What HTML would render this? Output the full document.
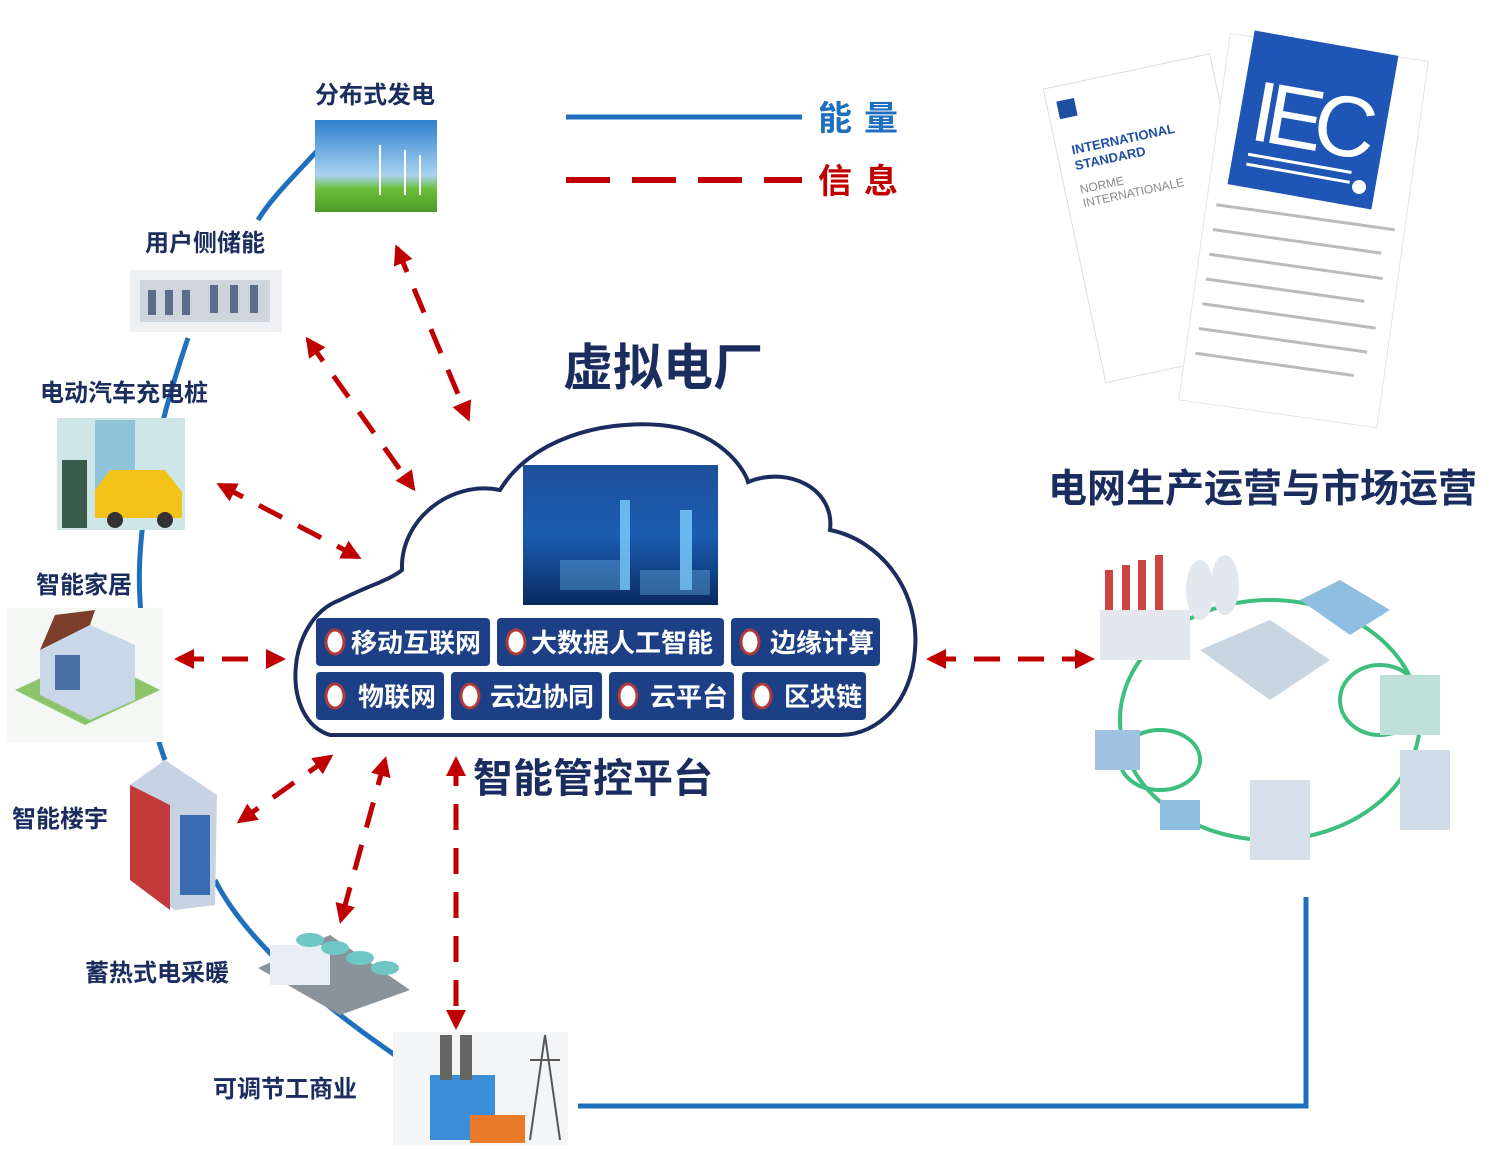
<!DOCTYPE html>
<html><head><meta charset="utf-8"><style>
html,body{margin:0;padding:0;background:#fff;}
svg{display:block;}
.t{font-family:"Liberation Sans","Noto Sans CJK SC",sans-serif;font-weight:bold;}
</style></head><body>
<svg width="1504" height="1149" viewBox="0 0 1504 1149" xmlns="http://www.w3.org/2000/svg">
<defs>
<marker id="ah" viewBox="0 0 10 10" refX="8" refY="5" markerWidth="4" markerHeight="4" orient="auto-start-reverse"><path d="M0,0L10,5L0,10z" fill="#c00000"/></marker>
<linearGradient id="sky" x1="0" y1="0" x2="0" y2="1"><stop offset="0" stop-color="#2f7fd0"/><stop offset="0.6" stop-color="#a9d3f0"/><stop offset="0.75" stop-color="#6cbf3a"/><stop offset="1" stop-color="#4a9a28"/></linearGradient>
<linearGradient id="city" x1="0" y1="0" x2="0" y2="1"><stop offset="0" stop-color="#1e4f9a"/><stop offset="0.5" stop-color="#1a5cb0"/><stop offset="1" stop-color="#0a2a60"/></linearGradient>
</defs>

<g stroke="#1f6fbf" stroke-width="5" fill="none">
<path d="M318,150 C290,180 270,200 258,220"/>
<path d="M188,338 C160,420 135,520 140,600 C145,680 150,720 165,760"/>
<path d="M215,880 C240,930 300,990 395,1055"/>
<path d="M1306,897 L1306,1106 L578,1106"/>
</g>

<line x1="566" y1="117" x2="802" y2="117" stroke="#1f6fbf" stroke-width="5"/>
<line x1="566" y1="180" x2="802" y2="180" stroke="#c00000" stroke-width="6" stroke-dasharray="44,22"/>
<text x="818" y="130" class="t" font-size="34" fill="#1f6fbf" letter-spacing="12">能量</text>
<text x="818" y="193" class="t" font-size="34" fill="#c00000" letter-spacing="12">信息</text>

<text x="563" y="385" class="t" font-size="50" fill="#1b2c5e">虚拟电厂</text>
<text x="1048" y="502" class="t" font-size="39" fill="#1b2c5e">电网生产运营与市场运营</text>
<text x="473" y="792" class="t" font-size="40" fill="#1b2c5e">智能管控平台</text>

<path d="M330,735 C280,720 285,620 340,600 C370,585 390,580 402,570 C400,520 450,480 500,490 C530,440 600,420 660,425 C720,430 745,470 748,482 C790,465 835,490 830,530 C880,540 920,590 915,650 C912,700 880,735 840,735 Z" fill="#fff" stroke="#1b2c5e" stroke-width="4"/>
<rect x="523" y="465" width="195" height="140" fill="url(#city)"/>
<g fill="#7fd0ff" opacity="0.8">
<rect x="620" y="500" width="10" height="90"/><rect x="680" y="510" width="12" height="80"/><rect x="560" y="560" width="60" height="30" opacity="0.4"/><rect x="640" y="570" width="70" height="25" opacity="0.4"/>
</g>

<g class="t" font-size="26" fill="#fff">
<rect x="316" y="618" width="174" height="48" rx="4" fill="#1d3f86"/>
<rect x="497" y="618" width="227" height="48" rx="4" fill="#1d3f86"/>
<rect x="731" y="618" width="149" height="48" rx="4" fill="#1d3f86"/>
<rect x="316" y="672" width="128" height="48" rx="4" fill="#1d3f86"/>
<rect x="451" y="672" width="151" height="48" rx="4" fill="#1d3f86"/>
<rect x="609" y="672" width="125" height="48" rx="4" fill="#1d3f86"/>
<rect x="742" y="672" width="124" height="48" rx="4" fill="#1d3f86"/>
<g fill="#fff" stroke="#b03a3a" stroke-width="3">
<ellipse cx="335" cy="642" rx="9" ry="12"/><ellipse cx="516" cy="642" rx="9" ry="12"/><ellipse cx="750" cy="642" rx="9" ry="12"/>
<ellipse cx="335" cy="696" rx="9" ry="12"/><ellipse cx="470" cy="696" rx="9" ry="12"/><ellipse cx="628" cy="696" rx="9" ry="12"/><ellipse cx="762" cy="696" rx="9" ry="12"/>
</g>
<text x="351" y="652">移动互联网</text>
<text x="531" y="652">大数据人工智能</text>
<text x="770" y="652">边缘计算</text>
<text x="358" y="706">物联网</text>
<text x="490" y="706">云边协同</text>
<text x="650" y="706">云平台</text>
<text x="784" y="706">区块链</text>
</g>

<g stroke="#c00000" stroke-width="5" stroke-dasharray="26,18" fill="none" marker-start="url(#ah)" marker-end="url(#ah)">
<line x1="397" y1="248" x2="468" y2="418"/>
<line x1="308" y1="340" x2="413" y2="488"/>
<line x1="220" y1="485" x2="358" y2="557"/>
<line x1="178" y1="659" x2="282" y2="659"/>
<line x1="330" y1="757" x2="240" y2="821"/>
<line x1="385" y1="760" x2="341" y2="920"/>
<line x1="456" y1="760" x2="456" y2="1026"/>
<line x1="930" y1="659" x2="1091" y2="659"/>
</g>

<g class="t" font-size="24" fill="#1b2c5e">
<text x="315" y="103">分布式发电</text>
<text x="145" y="251">用户侧储能</text>
<text x="40" y="401">电动汽车充电桩</text>
<text x="36" y="593">智能家居</text>
<text x="12" y="827">智能楼宇</text>
<text x="85" y="981">蓄热式电采暖</text>
<text x="213" y="1097">可调节工商业</text>
</g>

<rect x="315" y="120" width="122" height="92" fill="url(#sky)"/>
<g stroke="#fff" stroke-width="2"><line x1="380" y1="145" x2="380" y2="195"/><line x1="405" y1="150" x2="405" y2="195"/><line x1="420" y1="155" x2="420" y2="195"/></g>

<rect x="130" y="270" width="152" height="62" fill="#eef0f3"/>
<g fill="#cfd5dd"><rect x="140" y="280" width="130" height="42"/></g>
<g fill="#5a6c8a"><rect x="148" y="290" width="8" height="25"/><rect x="165" y="290" width="8" height="25"/><rect x="182" y="290" width="8" height="25"/><rect x="210" y="285" width="8" height="28"/><rect x="230" y="285" width="8" height="28"/><rect x="250" y="285" width="8" height="28"/></g>

<rect x="57" y="418" width="128" height="112" fill="#cfe6e8"/>
<rect x="95" y="420" width="40" height="80" fill="#8fc3d9"/>
<rect x="62" y="460" width="25" height="68" fill="#3a5a4a"/>
<path d="M95,490 L110,470 L165,470 L182,492 L182,518 L95,518Z" fill="#f2c21b"/>
<circle cx="115" cy="520" r="8" fill="#333"/><circle cx="165" cy="520" r="8" fill="#333"/>

<rect x="7" y="608" width="156" height="134" fill="#f4f7f4"/>
<path d="M15,690 L85,725 L160,690 L90,655Z" fill="#8cc46a"/>
<path d="M40,650 L90,625 L135,645 L135,700 L90,720 L40,695Z" fill="#c8d8e8"/>
<path d="M40,650 L90,625 L95,610 L55,615Z" fill="#7a3e2a"/>
<rect x="55" y="655" width="25" height="35" fill="#4a6fa5"/>

<path d="M130,785 L165,760 L217,795 L215,905 L175,910 L130,880Z" fill="#c7d3e3"/>
<path d="M130,785 L170,805 L170,910 L130,880Z" fill="#c23a3a"/>
<g fill="#3a6ab0"><rect x="180" y="815" width="30" height="80"/></g>

<path d="M258,968 L330,935 L410,990 L340,1015Z" fill="#8a929c"/>
<rect x="270" y="945" width="60" height="40" fill="#e8eef5"/>
<g fill="#6fc7c5"><ellipse cx="310" cy="940" rx="14" ry="7"/><ellipse cx="335" cy="948" rx="14" ry="7"/><ellipse cx="360" cy="958" rx="14" ry="7"/><ellipse cx="385" cy="968" rx="14" ry="7"/></g>

<rect x="393" y="1032" width="175" height="113" fill="#f3f5f7"/>
<rect x="430" y="1075" width="65" height="65" fill="#3b8fd8"/>
<rect x="440" y="1035" width="12" height="45" fill="#666"/><rect x="460" y="1035" width="12" height="45" fill="#666"/>
<rect x="470" y="1115" width="55" height="28" fill="#e87a2a"/>
<path d="M545,1035 L530,1140 M545,1035 L560,1140 M530,1060 L560,1060" stroke="#555" stroke-width="2"/>

<g transform="rotate(-12 1150 230)">
<rect x="1075" y="70" width="170" height="300" fill="#fff" stroke="#ddd"/>
<rect x="1085" y="85" width="18" height="18" fill="#1f4fa0"/>
<text x="1090" y="140" font-family="Liberation Sans" font-size="13" font-weight="bold" fill="#1f4fa0">INTERNATIONAL</text>
<text x="1090" y="156" font-family="Liberation Sans" font-size="13" font-weight="bold" fill="#1f4fa0">STANDARD</text>
<text x="1090" y="180" font-family="Liberation Sans" font-size="12" fill="#888">NORME</text>
<text x="1090" y="194" font-family="Liberation Sans" font-size="12" fill="#888">INTERNATIONALE</text>
</g>
<g transform="rotate(8 1300 220)">
<rect x="1205" y="45" width="200" height="370" fill="#fff" stroke="#e4e4e4"/>
<g fill="#bbb"><rect x="1215" y="215" width="180" height="3"/><rect x="1215" y="240" width="170" height="3"/><rect x="1215" y="265" width="175" height="3"/><rect x="1215" y="290" width="160" height="3"/><rect x="1215" y="315" width="175" height="3"/><rect x="1215" y="340" width="170" height="3"/><rect x="1215" y="365" width="160" height="3"/></g>
</g>
<g transform="rotate(10 1313 120)">
<rect x="1240" y="42" width="146" height="156" fill="#1f55b5"/>
<text x="1252" y="150" font-family="Liberation Sans" font-size="86" fill="#fff" textLength="125">IEC</text>
<g stroke="#fff" stroke-width="3"><line x1="1255" y1="165" x2="1360" y2="165"/><line x1="1255" y1="175" x2="1360" y2="175"/></g>
<circle cx="1370" cy="178" r="7" fill="#fff"/>
</g>

<g fill="none" stroke="#3fbf7f" stroke-width="4">
<ellipse cx="1270" cy="720" rx="150" ry="120"/>
<ellipse cx="1160" cy="760" rx="40" ry="30"/>
<ellipse cx="1380" cy="700" rx="40" ry="35"/>
</g>
<path d="M1200,650 L1270,620 L1330,660 L1270,700Z" fill="#c9d5e0"/>
<g fill="#e3e8ee"><rect x="1105" y="570" width="8" height="60" fill="#c44"/><rect x="1122" y="565" width="8" height="60" fill="#c44"/><rect x="1138" y="560" width="8" height="60" fill="#c44"/><rect x="1155" y="555" width="8" height="60" fill="#c44"/><rect x="1100" y="610" width="90" height="50"/><ellipse cx="1200" cy="590" rx="14" ry="30"/><ellipse cx="1225" cy="585" rx="14" ry="30"/></g>
<path d="M1300,600 L1340,580 L1390,610 L1350,635Z" fill="#8fbfe0"/>
<rect x="1380" y="675" width="60" height="60" fill="#bfe0d8"/>
<rect x="1400" y="750" width="50" height="80" fill="#d0dbe8"/>
<rect x="1250" y="780" width="60" height="80" fill="#d7e0ea"/>
<rect x="1095" y="730" width="45" height="40" fill="#9fc2e0"/>
<rect x="1160" y="800" width="40" height="30" fill="#8fbfe0"/>
</svg>
</body></html>
